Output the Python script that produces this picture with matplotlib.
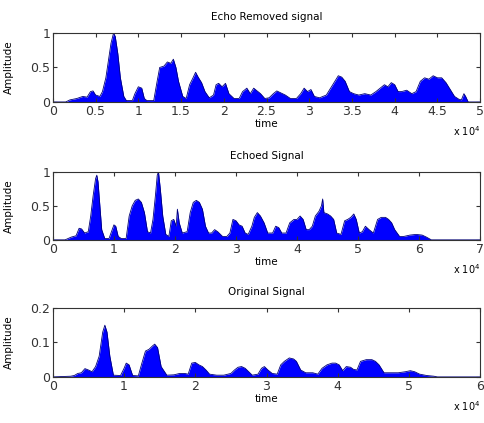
import matplotlib
matplotlib.use('Agg')
import matplotlib.pyplot as plt
import numpy as np

# Data: envelope of |signal|, time in units of 1e4 samples
t_removed = [0, 0.15, 0.2, 0.28, 0.35, 0.4, 0.44, 0.47, 0.5, 0.55, 0.58, 0.62, 0.65, 0.68, 0.71, 0.73, 0.76, 0.79, 0.83, 0.86,
             0.93, 0.96, 1.0, 1.04, 1.07, 1.1, 1.18, 1.22, 1.25, 1.3, 1.34, 1.38, 1.41, 1.44, 1.47, 1.52, 1.56, 1.6, 1.64,
             1.67, 1.7, 1.74, 1.78, 1.83, 1.88, 1.91, 1.94, 1.98, 2.02, 2.06, 2.12, 2.18, 2.22, 2.27, 2.31, 2.35, 2.39,
             2.43, 2.48, 2.53, 2.58, 2.62, 2.67, 2.72, 2.78, 2.85, 2.9, 2.94, 2.98, 3.02, 3.06, 3.12, 3.2, 3.25, 3.3,
             3.34, 3.38, 3.42, 3.47, 3.52, 3.58, 3.65, 3.72, 3.78, 3.83, 3.88, 3.92, 3.96, 4.0, 4.04, 4.08, 4.14, 4.2,
             4.25, 4.3, 4.35, 4.4, 4.45, 4.5, 4.55, 4.6, 4.65, 4.7, 4.75, 4.78, 4.81, 4.83, 4.86, 5.0]
a_removed = [0, 0, 0.03, 0.05, 0.08, 0.07, 0.15, 0.16, 0.1, 0.08, 0.15, 0.35, 0.6, 0.85, 1.0, 0.95, 0.7, 0.35, 0.08, 0.02,
             0.02, 0.12, 0.22, 0.2, 0.05, 0.02, 0.02, 0.3, 0.5, 0.52, 0.58, 0.56, 0.62, 0.5, 0.3, 0.08, 0.05, 0.25, 0.35,
             0.43, 0.36, 0.28, 0.15, 0.06, 0.1, 0.25, 0.27, 0.22, 0.27, 0.12, 0.05, 0.05, 0.15, 0.2, 0.12, 0.2, 0.16,
             0.12, 0.05, 0.06, 0.12, 0.16, 0.13, 0.1, 0.05, 0.05, 0.12, 0.2, 0.15, 0.18, 0.08, 0.06, 0.1, 0.2, 0.3,
             0.38, 0.36, 0.3, 0.15, 0.12, 0.1, 0.12, 0.1, 0.15, 0.2, 0.25, 0.22, 0.28, 0.25, 0.15, 0.15, 0.17, 0.12,
             0.15, 0.3, 0.35, 0.33, 0.38, 0.35, 0.35, 0.28, 0.18, 0.08, 0.04, 0.03, 0.12, 0.08, 0, 0]

t_echoed = [0, 0.2, 0.3, 0.38, 0.43, 0.47, 0.52, 0.58, 0.62, 0.66, 0.7, 0.72, 0.74, 0.77, 0.8, 0.85, 0.92, 0.96, 1.0,
            1.03, 1.07, 1.12, 1.2, 1.25, 1.3, 1.35, 1.4, 1.45, 1.5, 1.55, 1.6, 1.64, 1.68, 1.71, 1.73, 1.76, 1.8, 1.85,
            1.9, 1.94, 1.98, 2.02, 2.04, 2.07, 2.12, 2.2, 2.25, 2.3, 2.35, 2.4, 2.45, 2.5, 2.55, 2.6, 2.65, 2.7, 2.78,
            2.85, 2.9, 2.95, 3.0, 3.05, 3.1, 3.15, 3.2, 3.26, 3.3, 3.35, 3.4, 3.46, 3.52, 3.6, 3.65, 3.7, 3.75, 3.82,
            3.88, 3.95, 4.0, 4.05, 4.1, 4.15, 4.2, 4.25, 4.3, 4.36, 4.4, 4.42, 4.44, 4.5, 4.55, 4.6, 4.65, 4.72, 4.78,
            4.83, 4.88, 4.93, 4.97, 5.02, 5.07, 5.12, 5.18, 5.25, 5.32, 5.38, 5.45, 5.5, 5.55, 5.6, 5.68, 5.75, 5.85,
            5.95, 6.05, 6.12, 6.2, 7.0]
a_echoed = [0, 0, 0.04, 0.06, 0.17, 0.16, 0.1, 0.12, 0.35, 0.65, 0.9, 0.95, 0.85, 0.5, 0.15, 0.02, 0.02, 0.12, 0.22,
            0.2, 0.05, 0.02, 0.02, 0.35, 0.5, 0.58, 0.6, 0.55, 0.4, 0.12, 0.1, 0.3, 0.65, 0.95, 1.0, 0.75, 0.35, 0.08,
            0.05, 0.28, 0.3, 0.2, 0.45, 0.25, 0.1, 0.12, 0.4, 0.55, 0.58, 0.55, 0.45, 0.2, 0.1, 0.1, 0.15, 0.12, 0.05,
            0.05, 0.1, 0.3, 0.28, 0.22, 0.2, 0.1, 0.08, 0.2, 0.33, 0.4, 0.35, 0.25, 0.1, 0.1, 0.2, 0.18, 0.1, 0.1,
            0.25, 0.3, 0.3, 0.35, 0.3, 0.15, 0.15, 0.2, 0.35, 0.42, 0.5, 0.6, 0.4, 0.38, 0.35, 0.3, 0.1, 0.08, 0.28,
            0.3, 0.33, 0.38, 0.3, 0.1, 0.12, 0.2, 0.15, 0.1, 0.3, 0.33, 0.33, 0.3, 0.25, 0.15, 0.05, 0.05, 0.07,
            0.08, 0.07, 0.04, 0, 0]

t_original = [0, 0.25, 0.3, 0.35, 0.4, 0.45, 0.5, 0.55, 0.6, 0.65, 0.7, 0.73, 0.76, 0.8, 0.85, 0.95, 1.0, 1.03, 1.07,
              1.12, 1.2, 1.25, 1.3, 1.35, 1.4, 1.43, 1.47, 1.52, 1.6, 1.7, 1.78, 1.85, 1.9, 1.95, 2.0, 2.05, 2.1, 2.15,
              2.2, 2.3, 2.4, 2.5, 2.55, 2.6, 2.65, 2.7, 2.75, 2.8, 2.88, 2.93, 2.97, 3.02, 3.08, 3.15, 3.2, 3.25, 3.32,
              3.38, 3.42, 3.48, 3.55, 3.65, 3.72, 3.78, 3.85, 3.92, 3.97, 4.02, 4.07, 4.12, 4.18, 4.22, 4.27, 4.32,
              4.4, 4.48, 4.53, 4.58, 4.65, 4.75, 4.85, 4.95, 5.02, 5.08, 5.15, 5.25, 5.35, 5.4, 6.0]
a_original = [0, 0.002, 0.004, 0.01, 0.012, 0.024, 0.02, 0.015, 0.03, 0.06, 0.13, 0.15, 0.13, 0.06, 0.005, 0.004, 0.025,
              0.04, 0.035, 0.004, 0.003, 0.04, 0.075, 0.08, 0.09, 0.095, 0.085, 0.03, 0.005, 0.006, 0.01, 0.01, 0.008,
              0.04, 0.042, 0.035, 0.03, 0.02, 0.008, 0.005, 0.005, 0.01, 0.02, 0.028, 0.03, 0.025, 0.015, 0.005, 0.008,
              0.025, 0.03, 0.02, 0.01, 0.008, 0.035, 0.045, 0.055, 0.052, 0.045, 0.02, 0.012, 0.012, 0.008, 0.025,
              0.035, 0.04, 0.04, 0.035, 0.018, 0.03, 0.028, 0.022, 0.02, 0.045, 0.05, 0.05, 0.045, 0.035, 0.012, 0.012,
              0.012, 0.015, 0.018, 0.015, 0.008, 0.004, 0.002, 0, 0]

titles = ['Echo Removed signal', 'Echoed Signal', 'Original Signal']
xmax = [5, 7, 6]
xticks = [[0, 0.5, 1, 1.5, 2, 2.5, 3, 3.5, 4, 4.5, 5], [0, 1, 2, 3, 4, 5, 6, 7], [0, 1, 2, 3, 4, 5, 6]]
yticks = [[0, 0.5, 1], [0, 0.5, 1], [0, 0.1, 0.2]]
series = [(t_removed, a_removed), (t_echoed, a_echoed), (t_original, a_original)]

fig = plt.figure(figsize=(4.85, 4.23), dpi=100)
positions = [[0.109, 0.759, 0.881, 0.163], [0.109, 0.433, 0.881, 0.161], [0.109, 0.109, 0.881, 0.163]]

for i in range(3):
    ax = fig.add_axes(positions[i])
    t = np.array(series[i][0]) * 1e4
    a = np.array(series[i][1])
    ax.fill_between(t, 0, a, color='#0000ff', linewidth=0)
    ax.plot(t, a, color='#00007a', linewidth=0.6)
    ax.set_xlim(0, xmax[i] * 1e4)
    ax.set_ylim(yticks[i][0], yticks[i][-1])
    ax.set_xticks(np.array(xticks[i]) * 1e4)
    ax.set_xticklabels(['%g' % v for v in xticks[i]])
    ax.set_yticks(yticks[i])
    ax.set_yticklabels(['%g' % v for v in yticks[i]])
    ax.tick_params(direction='in', top=True, right=True, labelsize=9, length=3, pad=2, colors='#333333')
    for s in ax.spines.values():
        s.set_color('#333333')
        s.set_linewidth(0.8)
    ax.set_title(titles[i], fontsize=7.5, pad=9)
    ax.set_xlabel('time', fontsize=7.5, labelpad=1)
    ax.set_ylabel('Amplitude', fontsize=7.5)
    ax.yaxis.set_label_coords(-0.092, 0.5)
    ax.text(1.0, -0.33, r'x 10$^{4}$', transform=ax.transAxes, ha='right', va='top', fontsize=7)

fig.savefig('out.png', dpi=100)
